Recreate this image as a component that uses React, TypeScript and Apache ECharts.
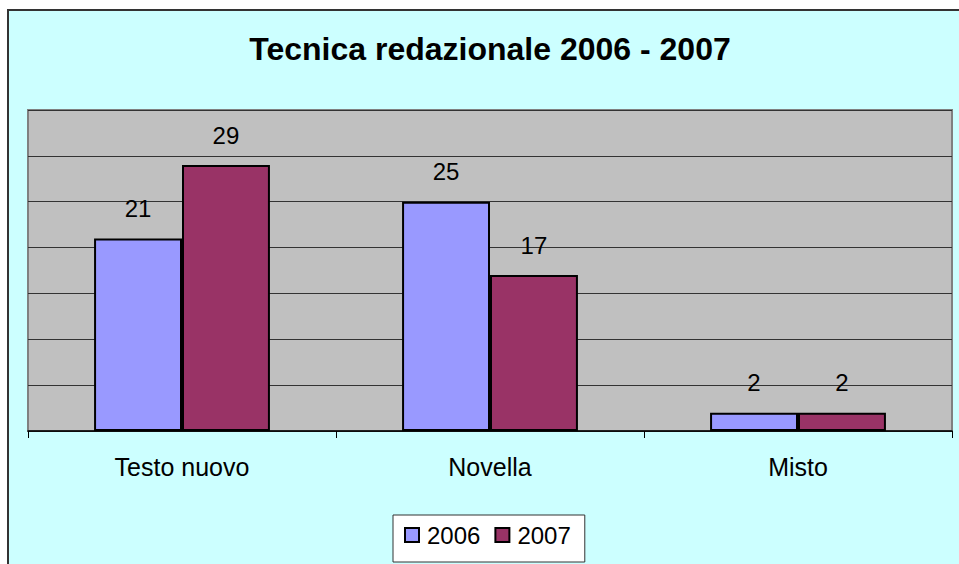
import React, { useEffect, useRef } from "react";
import * as echarts from "echarts";

const categories = ["Testo nuovo", "Novella", "Misto"];
const seriesNames = ["2006", "2007"];
const values2006 = [21, 25, 2];
const values2007 = [29, 17, 2];
const seriesColors = ["#9999FF", "#993366"];
const yMin = 0;
const yMax = 35;
const yInterval = 5;

const FONT = "'Liberation Sans', Arial, sans-serif";

export default function App() {
  const ref = useRef<HTMLDivElement>(null);
  useEffect(() => {
    if (!ref.current) return;
    const chart = echarts.init(ref.current, undefined, { renderer: "svg" });
    const labelStyle = {
      show: true,
      position: "top" as const,
      distance: 18,
      fontSize: 24,
      color: "#000",
      fontFamily: FONT,
    };
    chart.setOption({
      animation: false,
      backgroundColor: "#ffffff",
      textStyle: { fontFamily: FONT },
      graphic: [
        {
          type: "rect",
          z: -100,
          shape: { x: 8, y: 10, width: 1000, height: 600 },
          style: { fill: "#CCFFFF", stroke: "#333333", lineWidth: 2 },
        },
      ],
      title: {
        text: "Tecnica redazionale 2006 - 2007",
        left: 490,
        textAlign: "center",
        top: 33,
        padding: 0,
        textStyle: { fontSize: 32, fontWeight: "bold", color: "#000", fontFamily: FONT },
      },
      legend: {
        data: seriesNames,
        left: 393,
        top: 515,
        orient: "horizontal",
        icon: "rect",
        itemWidth: 14,
        itemHeight: 14,
        itemGap: 14,
        padding: [8, 14, 15, 11],
        backgroundColor: "#ffffff",
        borderColor: "#333333",
        borderWidth: 1,
        textStyle: { fontSize: 24, color: "#000", fontFamily: FONT, padding: [0, 0, 0, 3] },
      },
      grid: {
        left: 28,
        top: 110,
        width: 924,
        height: 321,
        show: true,
        backgroundColor: "#C0C0C0",
        borderColor: "#808080",
        borderWidth: 2,
        containLabel: false,
      },
      xAxis: {
        type: "category",
        data: categories,
        boundaryGap: true,
        axisLine: { show: true, lineStyle: { color: "#000", width: 1.5 } },
        axisTick: { show: true, length: 7, interval: 0, lineStyle: { color: "#000", width: 1 } },
        axisLabel: { fontSize: 25, color: "#000", margin: 23, fontFamily: FONT, interval: 0 },
        splitLine: { show: false },
      },
      yAxis: {
        type: "value",
        min: yMin,
        max: yMax,
        interval: yInterval,
        axisLabel: { show: false },
        axisLine: { show: false },
        axisTick: { show: false },
        splitLine: { show: true, lineStyle: { color: "#333333", width: 1 } },
      },
      series: [
        {
          name: seriesNames[0],
          type: "bar",
          data: values2006,
          barGap: "0%",
          barCategoryGap: "42.9%",
          itemStyle: { color: seriesColors[0], borderColor: "#000", borderWidth: 2 },
          label: labelStyle,
        },
        {
          name: seriesNames[1],
          type: "bar",
          data: values2007,
          barGap: "0%",
          barCategoryGap: "42.9%",
          itemStyle: { color: seriesColors[1], borderColor: "#000", borderWidth: 2 },
          label: labelStyle,
        },
      ],
    });
    return () => chart.dispose();
  }, []);
  return (
    <div
      ref={ref}
      style={{ position: "absolute", left: 0, top: 0, width: 959, height: 564 }}
    />
  );
}
